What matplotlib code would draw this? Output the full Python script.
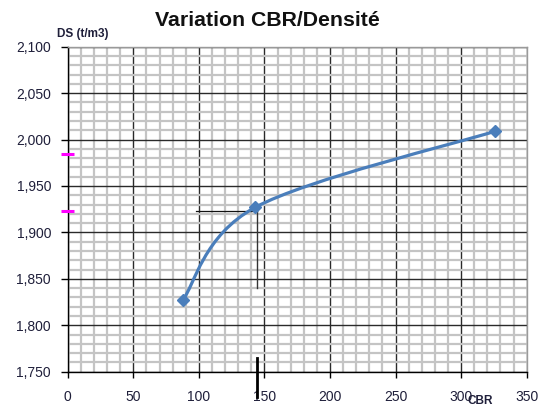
import numpy as np
import matplotlib
matplotlib.use("Agg")
import matplotlib.pyplot as plt
from matplotlib.path import Path
from matplotlib.patches import PathPatch
from matplotlib.ticker import MultipleLocator, FuncFormatter

plt.rcParams['font.family'] = ['Liberation Sans', 'DejaVu Sans']

# points de la courbe CBR / densite seche
cbr = [87.7, 143.0, 326.0]
ds = [1.827, 1.927, 2.009]

# lecture graphique (lignes noires)
lecture_cbr = 144.6
lecture_ds = 1.923
lecture_depart = 97.9
lecture_bas = 1.840
repere_haut = 1.7645

# reperes magenta sur l'axe des densites
reperes_ds = [1.984, 1.923]

titre = "Variation CBR/Densité"
label_y = "DS (t/m3)"
label_x = "CBR"

bleu = '#4A7EBB'
texte = '#1f1f3a'

fig = plt.figure(figsize=(5.42, 4.08), dpi=100)
ax = fig.add_axes([67.7 / 542, 36.3 / 408, 459 / 542, 325 / 408])
ax.set_xlim(0, 350)
ax.set_ylim(1.75, 2.10)

# quadrillage type papier millimetre
ax.xaxis.set_major_locator(MultipleLocator(50))
ax.xaxis.set_minor_locator(MultipleLocator(10))
ax.yaxis.set_major_locator(MultipleLocator(0.05))
ax.yaxis.set_minor_locator(MultipleLocator(0.01))
ax.grid(which='minor', color='#c4c4c4', lw=1.6, zorder=0)
ax.grid(which='major', color='#2a2a2a', lw=1.0, zorder=1)
ax.set_axisbelow(True)

ax.yaxis.set_major_formatter(FuncFormatter(lambda v, p: f"{v:.3f}".replace('.', ',')))
ax.xaxis.set_major_formatter(FuncFormatter(lambda v, p: f"{v:.0f}"))
ax.tick_params(which='minor', length=0)
ax.tick_params(axis='y', which='major', length=5, width=1, pad=7, labelsize=10, labelcolor=texte)
ax.tick_params(axis='x', which='major', length=4, width=1, pad=9, labelsize=10, labelcolor=texte)

for s in ['left', 'bottom']:
    ax.spines[s].set_color('black')
    ax.spines[s].set_linewidth(1.0)
for s in ['top', 'right']:
    ax.spines[s].set_color('#9a9a9a')
    ax.spines[s].set_linewidth(1.0)

# courbe lissee (bezier facon Excel), calculee dans un repere a l'echelle des pixels
sx, sy = 459 / 350, 325 / 0.35
P = np.column_stack([np.array(cbr) * sx, np.array(ds) * sy])
n = len(P)
verts = [tuple(P[0])]
codes = [Path.MOVETO]
for i in range(n - 1):
    p_prev = P[max(i - 1, 0)]
    p_next2 = P[min(i + 2, n - 1)]
    c1 = P[i] + (P[i + 1] - p_prev) / 6
    c2 = P[i + 1] - (p_next2 - P[i]) / 6
    verts += [tuple(c1), tuple(c2), tuple(P[i + 1])]
    codes += [Path.CURVE4] * 3
verts = [(x / sx, y / sy) for x, y in verts]
ax.add_patch(PathPatch(Path(verts, codes), facecolor='none', edgecolor=bleu,
                       lw=2.3, capstyle='round', joinstyle='round', zorder=4))
ax.plot(cbr, ds, linestyle='none', marker='D', markersize=6, color=bleu, zorder=5)

# lecture
ax.plot([lecture_depart, lecture_cbr], [lecture_ds, lecture_ds], color='#111111', lw=0.9, zorder=3)
ax.plot([lecture_cbr, lecture_cbr], [lecture_ds, lecture_bas], color='#333333', lw=1.0, zorder=3)
ax.plot([lecture_cbr, lecture_cbr], [repere_haut, 1.7228], color='black', lw=2.0,
        zorder=6, clip_on=False)

for r in reperes_ds:
    ax.plot([-5.1, 4.8], [r, r], color='#ff00ff', lw=2.2, zorder=6, clip_on=False,
            solid_capstyle='butt')

fig.text(267 / 542, 1 - 21 / 408, titre, ha='center', va='center',
         fontsize=15.3, fontweight='bold', color='#111111')
fig.text(57 / 542, 1 - 33.5 / 408, label_y, ha='left', va='center',
         fontsize=8.5, fontweight='bold', color=texte)
fig.text(480 / 542, 1 - 401 / 408, label_x, ha='center', va='center',
         fontsize=8.5, fontweight='bold', color=texte)

fig.savefig('out.png', dpi=100)
